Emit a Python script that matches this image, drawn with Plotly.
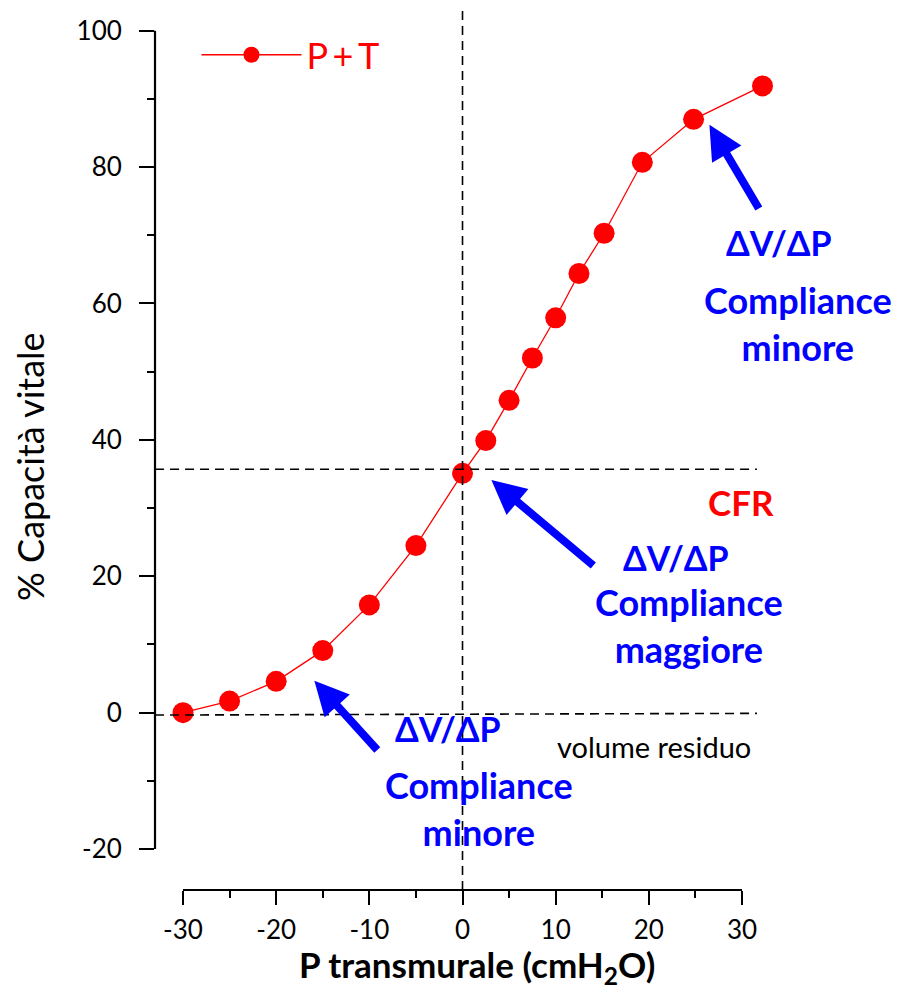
import plotly.graph_objects as go

# data
p_transmurale = [-30, -25, -20, -15, -10, -5, 0, 2.5, 5, 7.5, 10, 12.5, 15.2, 19.3, 24.8, 32.2]
capacita_vitale = [0, 1.7, 4.6, 9.1, 15.8, 24.5, 35.1, 39.9, 45.8, 52.0, 57.9, 64.4, 70.3, 80.7, 87.0, 91.9]
series_name = "P\u2009+\u2009T"

x_ticks = [-30, -20, -10, 0, 10, 20, 30]
x_minor = [-25, -15, -5, 5, 15, 25]
y_ticks = [-20, 0, 20, 40, 60, 80, 100]
y_minor = [-10, 10, 30, 50, 70, 90]

cfr_level = [35.7, 35.7]          # left, right
rv_level = [-0.35, -0.1]          # left, right
ref_x = [-33.0, 31.6]

# arrows: (tip_x, tip_y, tail_x, tail_y)
arrows = [
    (-15.9, 4.7, -9.0, -5.7),
    (3.1, 34.1, 14.2, 21.4),
    (26.5, 86.2, 31.9, 73.7),
]
# blue texts
dv_labels = [(-1.61, -2.26), (22.92, 22.82), (33.97, 68.87)]
comp_labels = [(1.77, -14.06, "Compliance<br>minore"),
               (24.3, 12.79, "Compliance<br>maggiore"),
               (36.0, 57.13, "Compliance<br>minore")]

FONT = "Lato"
RED = "#ff0000"
BLUE = "#0000ff"

fig = go.Figure()
fig.add_trace(go.Scatter(
    x=p_transmurale, y=capacita_vitale, mode="lines+markers", name=series_name,
    line=dict(color=RED, width=1.3),
    marker=dict(color=RED, size=21, line=dict(width=0)),
    cliponaxis=False,
))

shapes = []
shapes.append(dict(type="line", xref="x", yref="paper", x0=x_ticks[0], x1=x_ticks[-1], y0=0, y1=0,
                   line=dict(color="black", width=2.2)))
shapes.append(dict(type="line", xref="paper", yref="y", x0=0, x1=0, y0=y_ticks[0], y1=y_ticks[-1],
                   line=dict(color="black", width=2.2)))
shapes.append(dict(type="line", xref="x", yref="y", x0=ref_x[0], x1=ref_x[1], y0=cfr_level[0], y1=cfr_level[1],
                   line=dict(color="black", width=1.6, dash="9px,6px")))
shapes.append(dict(type="line", xref="x", yref="y", x0=ref_x[0], x1=ref_x[1], y0=rv_level[0], y1=rv_level[1],
                   line=dict(color="black", width=1.6, dash="9px,6px")))
shapes.append(dict(type="line", xref="x", yref="paper", x0=0, x1=0, y0=0, y1=1.023,
                   line=dict(color="black", width=1.6, dash="9px,6px")))

annotations = []
for tx, ty, ax_, ay_ in arrows:
    annotations.append(dict(x=tx, y=ty, ax=ax_, ay=ay_, xref="x", yref="y", axref="x", ayref="y",
                            text="", showarrow=True, arrowhead=2, arrowsize=0.85, arrowwidth=8,
                            arrowcolor=BLUE, standoff=0, startstandoff=0))
for x, y in dv_labels:
    annotations.append(dict(x=x, y=y, xref="x", yref="y", text="<b>\u0394V/\u0394P</b>", showarrow=False,
                            font=dict(family=FONT, size=34, color=BLUE)))
for x, y, t in comp_labels:
    annotations.append(dict(x=x, y=y, xref="x", yref="y", text="<b>" + t + "</b>", showarrow=False,
                            align="center", font=dict(family=FONT, size=36, color=BLUE)))
annotations.append(dict(x=29.89, y=30.88, xref="x", yref="y", text="<b>CFR</b>", showarrow=False,
                        font=dict(family=FONT, size=35, color=RED)))
annotations.append(dict(x=20.55, y=-5.0, xref="x", yref="y", text="volume residuo", showarrow=False,
                        font=dict(family=FONT, size=29, color="black")))
# axis titles
annotations.append(dict(x=1.56, y=-0.0895, xref="x", yref="paper", xanchor="center", yanchor="middle",
                        text="<b>P transmurale (cmH<sub>2</sub>O)</b>", showarrow=False,
                        font=dict(family=FONT, size=35, color="black")))
annotations.append(dict(x=-0.169, y=0.493, xref="paper", yref="paper", xanchor="center", yanchor="middle",
                        text="% Capacità vitale", textangle=-90, showarrow=False,
                        font=dict(family=FONT, size=36, color="black")))

fig.update_layout(
    width=901, height=995,
    margin=dict(l=155, r=6, t=30, b=105),
    paper_bgcolor="white", plot_bgcolor="white",
    font=dict(family=FONT, size=26, color="black"),
    showlegend=True,
    legend=dict(x=0.056, y=1.006, xanchor="left", yanchor="top", bgcolor="rgba(0,0,0,0)",
                itemwidth=100,
                font=dict(family=FONT, size=36, color=RED)),
    shapes=shapes, annotations=annotations,
    xaxis=dict(range=[-33.005, 46.42], showgrid=False, zeroline=False, showline=False,
               tickmode="array", tickvals=x_ticks, ticktext=[str(v) for v in x_ticks],
               ticks="outside", ticklen=14, tickwidth=2.2, tickcolor="black",
               minor=dict(tickvals=x_minor, ticks="outside", ticklen=7, tickwidth=2.2, tickcolor="black"),
               tickfont=dict(family=FONT, size=26, color="black"), ticklabelstandoff=3),
    yaxis=dict(range=[-26.0, 100.1], showgrid=False, zeroline=False, showline=False,
               tickmode="array", tickvals=y_ticks, ticktext=[str(v) for v in y_ticks],
               ticks="outside", ticklen=15, tickwidth=2.2, tickcolor="black",
               minor=dict(tickvals=y_minor, ticks="outside", ticklen=7, tickwidth=2.2, tickcolor="black"),
               tickfont=dict(family=FONT, size=26, color="black"), ticklabelstandoff=12),
)

fig.write_html("out.html")
